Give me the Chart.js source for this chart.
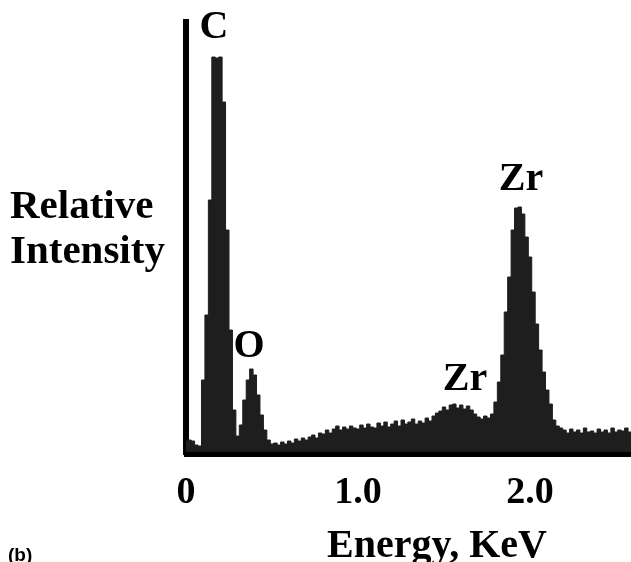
<!DOCTYPE html>
<html>
<head>
<meta charset="utf-8">
<script src="https://cdn.jsdelivr.net/npm/chart.js@4.4.1/dist/chart.umd.min.js"></script>
<style>
  html, body { margin: 0; padding: 0; background: #ffffff; }
  #wrap { width: 631px; height: 562px; position: relative; }
</style>
</head>
<body>
<div id="wrap"><canvas id="c" width="631" height="562"></canvas></div>
<script>
// ---- data ----
const channelWidthKeV = 0.02;
// relative intensity per 0.02 keV channel, starting at 0.00 keV
const counts = [
  11, 12, 11, 7, 6, 72, 137, 252, 395, 394,
  395, 350, 222, 122, 42, 16, 27, 52, 72, 83,
  77, 57, 37, 22, 12, 8, 9, 7, 10, 8,
  11, 9, 13, 11, 14, 12, 15, 17, 14, 19,
  18, 22, 19, 23, 26, 22, 25, 23, 26, 24,
  23, 27, 24, 28, 25, 24, 29, 26, 30, 25,
  28, 31, 26, 32, 28, 30, 33, 28, 31, 29,
  34, 31, 36, 39, 41, 45, 42, 47, 48, 44,
  47, 43, 46, 42, 38, 35, 33, 36, 34, 38,
  50, 70, 97, 140, 175, 222, 244, 245, 238, 215,
  195, 160, 128, 102, 80, 62, 48, 32, 26, 24,
  22, 19, 23, 20, 22, 19, 24, 20, 21, 19,
  23, 20, 22, 19, 24, 20, 22, 21, 24, 20,
  22
];
const energies = counts.map((_, i) => +(i * channelWidthKeV).toFixed(2));

const xTickValues = [0, 1, 2];
const xTickLabels = ['0', '1.0', '2.0'];

const peakLabels   = ['C', 'O', 'Zr', 'Zr'];
const peakEnergies = [0.163, 0.366, 1.622, 1.948];
const peakLabelLevels = [414, 95, 62, 262];

const yAxisTitleLines = ['Relative', 'Intensity'];
const xAxisTitle = 'Energy, KeV';
const panelLabel = '(b)';

// ---- chart ----
const serifBold = 'bold 40px "Liberation Serif", "Times New Roman", serif';

const textPlugin = {
  id: 'texts',
  afterDraw(chart) {
    const ctx = chart.ctx;
    const xs = chart.scales.x, ys = chart.scales.y;
    ctx.save();
    ctx.fillStyle = '#000';
    ctx.font = serifBold;
    ctx.textBaseline = 'alphabetic';
    // peak labels
    ctx.textAlign = 'center';
    peakLabels.forEach((t, i) => {
      ctx.fillText(t, xs.getPixelForValue(peakEnergies[i]), ys.getPixelForValue(peakLabelLevels[i]));
    });
    // y axis title (horizontal, two lines)
    ctx.textAlign = 'left';
    ctx.font = 'bold 41px "Liberation Serif", "Times New Roman", serif';
    ctx.fillText(yAxisTitleLines[0], 10, 218);
    ctx.fillText(yAxisTitleLines[1], 10, 263);
    // x axis title
    ctx.textAlign = 'center';
    ctx.font = 'bold 40px "Liberation Serif", "Times New Roman", serif';
    ctx.fillText(xAxisTitle, 437, 557);
    // panel label
    ctx.textAlign = 'left';
    ctx.font = 'bold 19px "Liberation Sans", Arial, sans-serif';
    ctx.fillText(panelLabel, 8, 561);
    ctx.restore();
  }
};

new Chart(document.getElementById('c'), {
  type: 'line',
  data: {
    datasets: [{
      data: energies.map((e, i) => ({ x: e, y: counts[i] })),
      stepped: 'middle',
      fill: 'origin',
      backgroundColor: '#1e1e1e',
      borderColor: '#1e1e1e',
      borderWidth: 1,
      pointRadius: 0,
      tension: 0
    }]
  },
  options: {
    responsive: false,
    animation: false,
    events: [],
    layout: { padding: { top: 22, right: 0, left: 0, bottom: 0 } },
    plugins: { legend: { display: false }, tooltip: { enabled: false } },
    scales: {
      x: {
        type: 'linear',
        min: 0,
        max: 2.587,
        z: 1,
        afterFit(s) { s.height = 107.5; },
        afterBuildTicks(s) { s.ticks = xTickValues.map(v => ({ value: v })); },
        grid: { display: false, drawTicks: false, tickLength: 0 },
        border: { display: true, color: '#000', width: 5 },
        ticks: {
          color: '#000',
          padding: 16,
          maxRotation: 0,
          autoSkip: false,
          font: { family: '"Liberation Serif", "Times New Roman", serif', size: 38, weight: 'bold' },
          callback(v) { const k = xTickValues.indexOf(v); return k >= 0 ? xTickLabels[k] : ''; }
        }
      },
      y: {
        min: -2.5,
        max: 430,
        z: 1,
        afterFit(s) { s.width = 186; },
        grid: { display: false, drawTicks: false, tickLength: 0 },
        border: { display: true, color: '#000', width: 6 },
        ticks: { display: false }
      }
    }
  },
  plugins: [textPlugin]
});
</script>
</body>
</html>
